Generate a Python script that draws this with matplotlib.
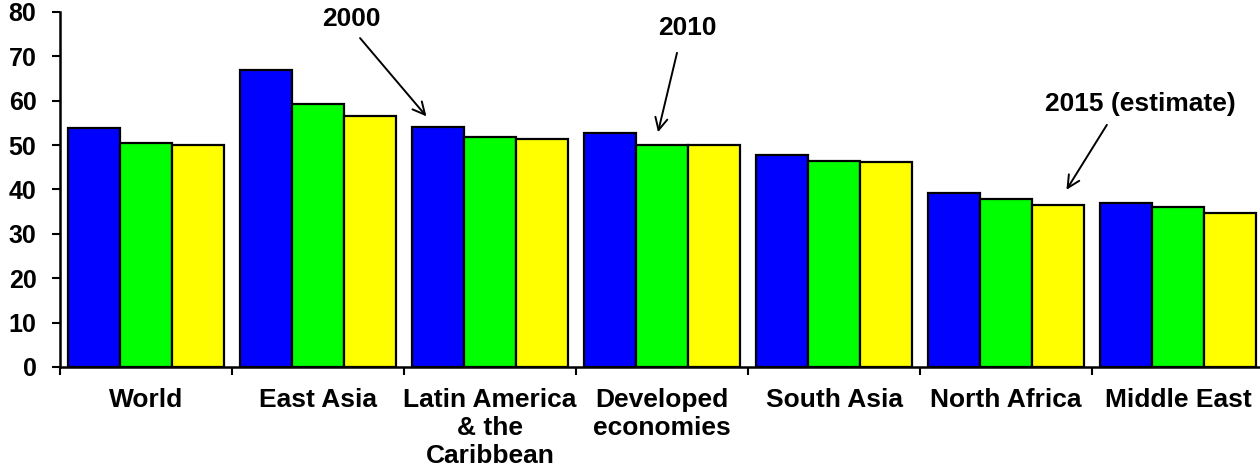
import matplotlib
matplotlib.use("Agg")
import matplotlib.pyplot as plt
import numpy as np

categories = ["World", "East Asia", "Latin America\n& the\nCaribbean", "Developed\neconomies",
              "South Asia", "North Africa", "Middle East"]
values_2000 = [53.9, 67.0, 54.1, 52.8, 47.8, 39.3, 36.9]
values_2010 = [50.5, 59.2, 51.9, 50.0, 46.5, 37.8, 36.1]
values_2015 = [50.0, 56.6, 51.3, 50.0, 46.2, 36.5, 34.6]
series = [values_2000, values_2010, values_2015]
colours = ["#0000FF", "#00FF00", "#FFFF00"]
yticks = [0, 10, 20, 30, 40, 50, 60, 70, 80]

plt.rcParams["font.family"] = ["Liberation Sans", "DejaVu Sans"]
plt.rcParams["font.weight"] = "bold"

fig = plt.figure(figsize=(12.6, 4.7), dpi=100)
ax = fig.add_axes([60 / 1260, 1 - 367 / 470, 1204 / 1260, 355 / 470])

x = np.arange(len(categories))
width = 0.303
for i, (vals, col) in enumerate(zip(series, colours)):
    ax.bar(x + (i - 1) * width, vals, width=width, color=col,
           edgecolor="black", linewidth=1.6, zorder=3)

ax.set_xlim(-0.5, len(categories) - 0.5)
ax.set_ylim(0, 80)
ax.set_yticks(yticks)
ax.set_yticklabels([str(v) for v in yticks], fontsize=18, fontweight="bold")
ax.set_xticks(x)
ax.set_xticklabels(categories, fontsize=19, fontweight="bold", linespacing=1.22)
ax.set_xticks(np.arange(len(categories) + 1) - 0.5, minor=True)
ax.tick_params(axis="x", which="major", length=0, pad=15)
ax.tick_params(axis="x", which="minor", length=6, width=1.5, direction="out")
ax.tick_params(axis="y", length=6, width=1.5, direction="out", pad=11)

for side in ["top", "right"]:
    ax.spines[side].set_visible(False)
for side in ["left", "bottom"]:
    ax.spines[side].set_linewidth(1.8)
ax.spines["bottom"].set_zorder(5)

arrow = dict(arrowstyle="->", color="black", lw=1.4, mutation_scale=22)
ax.annotate("2000", xy=(1.641, 56.0), xytext=(1.192, 78.4), ha="center", va="center",
            fontsize=19, fontweight="bold", annotation_clip=False)
ax.annotate("", xy=(1.641, 56.0), xytext=(1.234, 74.6), arrowprops=arrow)
ax.annotate("2010", xy=(2.973, 52.3), xytext=(3.149, 76.4), ha="center", va="center",
            fontsize=19, fontweight="bold")
ax.annotate("", xy=(2.973, 52.3), xytext=(3.091, 71.4), arrowprops=arrow)
ax.annotate("2015 (estimate)", xy=(5.343, 39.4), xytext=(5.782, 59.3), ha="center", va="center",
            fontsize=19, fontweight="bold")
ax.annotate("", xy=(5.343, 39.4), xytext=(5.595, 55.1), arrowprops=arrow)

fig.savefig("out.png", dpi=100)
